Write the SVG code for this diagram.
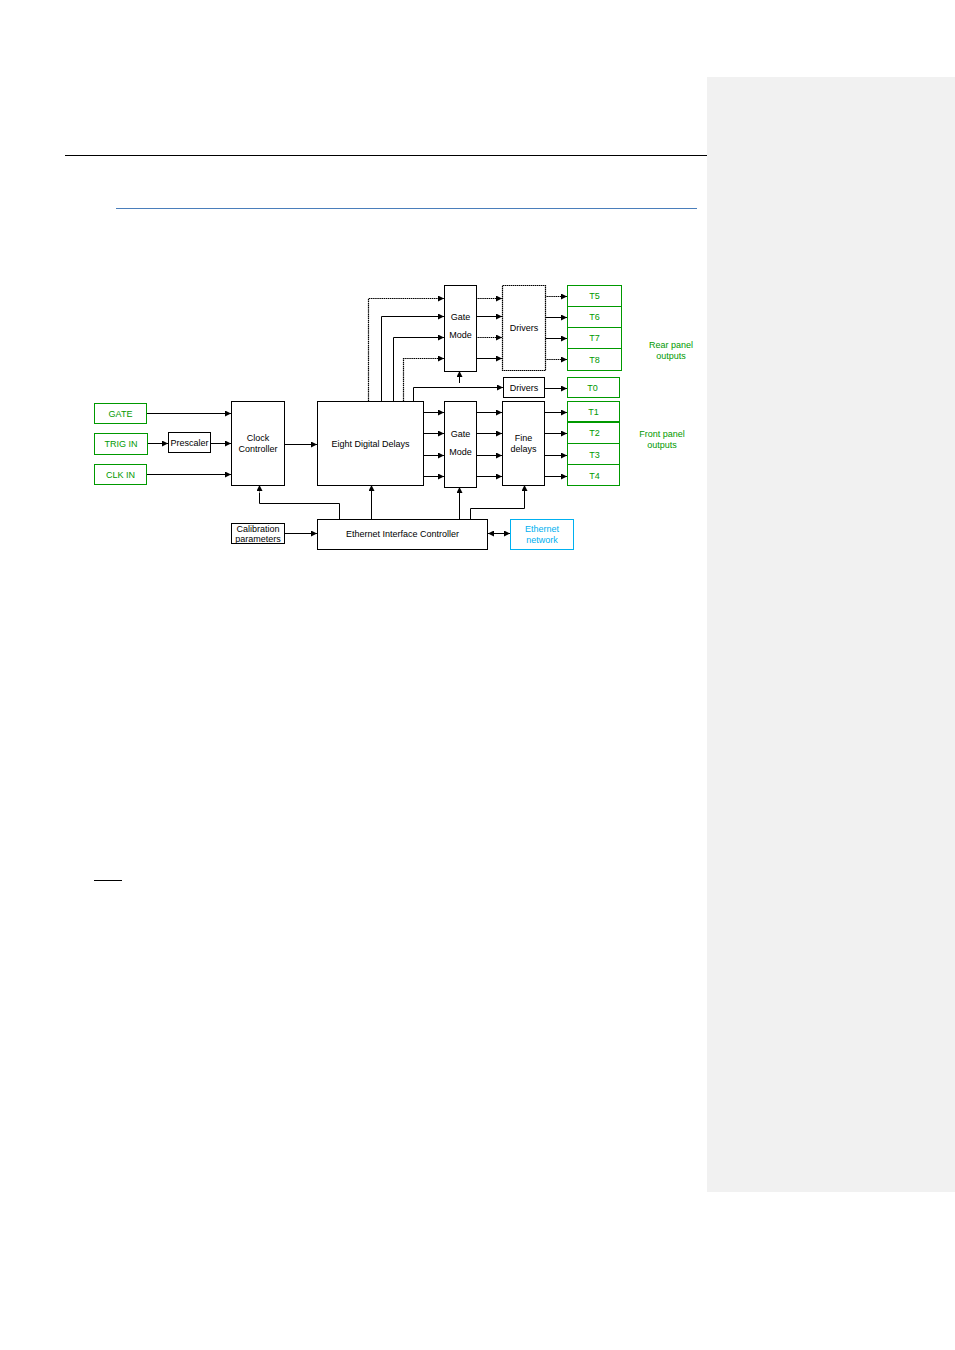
<svg xmlns="http://www.w3.org/2000/svg" width="955" height="1350" viewBox="0 0 955 1350">
<style>
.box{fill:#fff;stroke:#000;stroke-width:1}
.gbox{fill:#fff;stroke:#009900;stroke-width:1}
.dbox{fill:#fff;stroke:#000;stroke-width:1.2;stroke-dasharray:1.5 0.5}
.t{font-family:"Liberation Sans",Arial,sans-serif;font-size:9px;fill:#000;text-anchor:middle}
.tg{font-family:"Liberation Sans",Arial,sans-serif;font-size:9px;fill:#009900;text-anchor:middle}
.tb{font-family:"Liberation Sans",Arial,sans-serif;font-size:9px;fill:#00b0f0;text-anchor:middle}
.c{fill:none;stroke:#000;stroke-width:1;marker-end:url(#a)}
.cd{fill:none;stroke:#000;stroke-width:1.2;stroke-dasharray:1.5 0.6;marker-end:url(#a)}
</style>
<defs>
<marker id="a" viewBox="0 0 8 8" refX="8" refY="4" markerWidth="6" markerHeight="6" markerUnits="userSpaceOnUse" orient="auto"><path d="M0,0 L8,4 L0,8 z" fill="#000"/></marker>
<marker id="s" viewBox="0 0 8 8" refX="0" refY="4" markerWidth="6" markerHeight="6" markerUnits="userSpaceOnUse" orient="auto"><path d="M8,0 L0,4 L8,8 z" fill="#000"/></marker>
</defs>
<rect x="0" y="0" width="955" height="1350" fill="#fff"/>
<rect x="707" y="77" width="248" height="1115" fill="#f1f1f1"/>
<line x1="65" y1="155.5" x2="707" y2="155.5" stroke="#000" stroke-width="1"/>
<line x1="116" y1="208.5" x2="697" y2="208.5" stroke="#4a7ebb" stroke-width="1"/>
<line x1="94" y1="880.5" x2="122" y2="880.5" stroke="#000" stroke-width="1"/>

<g id="connectors">
<path class="c" d="M147,413.5 H231"/>
<path class="c" d="M148,443.5 H168"/>
<path class="c" d="M210,443.5 H231"/>
<path class="c" d="M147,474.5 H231"/>
<path class="c" d="M284,444.5 H317"/>
<path class="cd" d="M368.5,401 V298.5 H444"/>
<path class="c" d="M381.5,401 V316.5 H444"/>
<path class="c" d="M393.5,401 V337.5 H444"/>
<path class="cd" d="M403.5,401 V358.5 H444"/>
<path class="c" d="M413.5,401 V387.5 H503"/>
<path class="c" d="M459.5,383 V371"/>
<path class="cd" d="M476,298.5 H502"/>
<path class="c" d="M476,316.5 H502"/>
<path class="cd" d="M476,337.5 H502"/>
<path class="c" d="M476,358.5 H502"/>
<path class="cd" d="M545,296.5 H567"/>
<path class="c" d="M545,317.5 H567"/>
<path class="c" d="M545,338.5 H567"/>
<path class="cd" d="M545,359.5 H567"/>
<path class="c" d="M544,388.5 H567"/>
<path class="c" d="M423,412.5 H444"/>
<path class="c" d="M423,433.5 H444"/>
<path class="c" d="M423,455.5 H444"/>
<path class="c" d="M423,476.5 H444"/>
<path class="c" d="M476,412.5 H502"/>
<path class="c" d="M476,433.5 H502"/>
<path class="c" d="M476,455.5 H502"/>
<path class="c" d="M476,476.5 H502"/>
<path class="c" d="M544,412.5 H567"/>
<path class="c" d="M544,433.5 H567"/>
<path class="c" d="M544,455.5 H567"/>
<path class="c" d="M544,476.5 H567"/>
<path d="M339.5,519 V503.5 H259.5 V492" fill="none" stroke="#000" stroke-width="1"/>
<path d="M259.5,493 V485" fill="none" stroke="#888" stroke-width="1" marker-end="url(#a)"/>
<path class="c" d="M371.5,519 V485"/>
<path class="c" d="M459.5,519 V487"/>
<path class="c" d="M470.5,519 V508.5 H524.5 V485"/>
<path class="c" d="M284,533.5 H317"/>
<path d="M488,533.5 H510" fill="none" stroke="#000" stroke-width="1" marker-start="url(#s)" marker-end="url(#a)"/>
</g>

<g id="gate"><rect class="gbox" x="94.5" y="403.5" width="52" height="20"/><text class="tg" x="120.5" y="416.5">GATE</text></g>
<g id="trigin"><rect class="gbox" x="94.5" y="433.5" width="53" height="21"/><text class="tg" x="121" y="447">TRIG IN</text></g>
<g id="clkin"><rect class="gbox" x="94.5" y="464.5" width="52" height="20"/><text class="tg" x="120.5" y="477.5">CLK IN</text></g>
<g id="prescaler"><rect class="box" x="168.5" y="432.5" width="42" height="20"/><text class="t" x="189.5" y="445.5">Prescaler</text></g>
<g id="clock"><rect class="box" x="231.5" y="401.5" width="53" height="84"/><text class="t" x="258" y="441">Clock</text><text class="t" x="258" y="452">Controller</text></g>
<g id="eight"><rect class="box" x="317.5" y="401.5" width="106" height="84"/><text class="t" x="370.5" y="447">Eight Digital Delays</text></g>
<g id="gatemode1"><rect class="box" x="444.5" y="285.5" width="32" height="86"/><text class="t" x="460.5" y="320">Gate</text><text class="t" x="460.5" y="338">Mode</text></g>
<g id="drivers1"><rect class="dbox" x="502.5" y="285.5" width="43" height="85"/><text class="t" x="524" y="331">Drivers</text></g>
<g id="t5"><rect class="gbox" x="567.5" y="285.5" width="54" height="21"/><text class="tg" x="594.5" y="299">T5</text></g>
<g id="t6"><rect class="gbox" x="567.5" y="306.5" width="54" height="21"/><text class="tg" x="594.5" y="320">T6</text></g>
<g id="t7"><rect class="gbox" x="567.5" y="327.5" width="54" height="21"/><text class="tg" x="594.5" y="341">T7</text></g>
<g id="t8"><rect class="gbox" x="567.5" y="348.5" width="54" height="22"/><text class="tg" x="594.5" y="362.5">T8</text></g>
<g id="rear"><text class="tg" x="671" y="348">Rear panel</text><text class="tg" x="671" y="359">outputs</text></g>
<g id="drivers2"><rect class="box" x="503.5" y="377.5" width="41" height="20"/><text class="t" x="524" y="390.5">Drivers</text></g>
<g id="t0"><rect class="gbox" x="567.5" y="377.5" width="52" height="20"/><text class="tg" x="592.5" y="390.5">T0</text></g>
<g id="gatemode2"><rect class="box" x="444.5" y="401.5" width="32" height="86"/><text class="t" x="460.5" y="437">Gate</text><text class="t" x="460.5" y="455">Mode</text></g>
<g id="fine"><rect class="box" x="502.5" y="401.5" width="42" height="84"/><text class="t" x="523.5" y="441">Fine</text><text class="t" x="523.5" y="452">delays</text></g>
<g id="t1"><rect class="gbox" x="567.5" y="401.5" width="52" height="20"/><text class="tg" x="593.5" y="414.5">T1</text></g>
<g id="t2"><rect class="gbox" x="567.5" y="422.5" width="52" height="21"/><text class="tg" x="594.5" y="436">T2</text></g>
<g id="t3"><rect class="gbox" x="567.5" y="443.5" width="52" height="21"/><text class="tg" x="594.5" y="457.5">T3</text></g>
<g id="t4"><rect class="gbox" x="567.5" y="464.5" width="52" height="21"/><text class="tg" x="594.5" y="478.5">T4</text></g>
<g id="front"><text class="tg" x="662" y="437">Front panel</text><text class="tg" x="662" y="448">outputs</text></g>
<g id="calib"><rect class="box" x="231.5" y="523.5" width="53" height="20"/><text class="t" x="258" y="531.5">Calibration</text><text class="t" x="258" y="542">parameters</text></g>
<g id="eic"><rect class="box" x="317.5" y="519.5" width="170" height="30"/><text class="t" x="402.5" y="537">Ethernet Interface Controller</text></g>
<g id="network"><rect x="510.5" y="519.5" width="63" height="30" fill="#fff" stroke="#00b0f0" stroke-width="1"/><text class="tb" x="542" y="532">Ethernet</text><text class="tb" x="542" y="543">network</text></g>
</svg>
